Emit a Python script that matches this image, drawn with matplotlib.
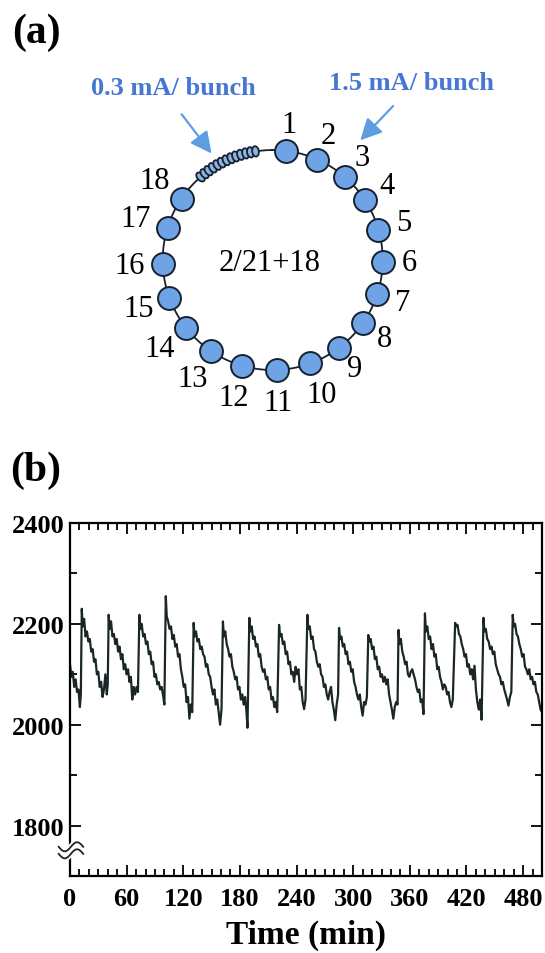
import numpy as np
import matplotlib
matplotlib.use('Agg')
import matplotlib.pyplot as plt
from matplotlib.patches import Ellipse
from matplotlib.ticker import MultipleLocator

# ---- data ----
# (a) bunch pattern, angles in degrees clockwise from the top
bunch_labels = [str(i) for i in range(1, 19)]
bunch_angle_deg = [7, 24, 41, 57, 74, 91, 108, 125, 143, 160,
                   178, 196, 214, 232, 250, 268, 287, 304]
small_bunch_angle_deg = [319, 321.7, 324.3, 327, 329.7, 332.3, 335,
                         337.7, 340.3, 343, 345.7, 348.3, 351]
fill_text = '2/21+18'
small_label = '0.3 mA/ bunch'
big_label = '1.5 mA/ bunch'

# (b) trace vs time
time_min = [
    0, 1.5, 3, 4.5, 6, 7.5, 9, 10.5, 11.5,
    12.5, 13.5, 15, 16.5, 18, 19.5, 21, 22.5, 24, 25.5, 27, 28.5, 30, 31.5, 33, 34.5, 36, 37.5, 39, 40,
    41, 42, 43.5, 45, 46.5, 48, 49.5, 51, 52.5, 54, 55.5, 57, 58.5, 60, 61.5, 63, 64.5, 66, 67.5, 69, 70.5, 72,
    73.5, 74.5, 76, 77.5, 79, 80.5, 82, 83.5, 85, 86.5, 88, 89.5, 91, 92.5, 94, 95.5, 97, 98.5, 100,
    101.5, 102.5, 104, 105.5, 107, 108.5, 110, 111.5, 113, 114.5, 116, 117.5, 119, 120.5, 122, 123.5, 125, 126.5, 128, 129.5,
    131, 132, 133.5, 135, 136.5, 138, 139.5, 141, 142.5, 144, 145.5, 147, 148.5, 150, 151.5, 153, 154.5, 156, 157.5, 159, 160.5,
    162, 163, 164.5, 166, 167.5, 169, 170.5, 172, 173.5, 175, 176.5, 178, 179.5, 181, 182.5, 184, 185.5, 187, 188,
    190, 191, 192.5, 194, 195.5, 197, 198.5, 200, 201.5, 203, 204.5, 206, 207.5, 209, 210.5, 212, 213.5, 215, 216.5, 218, 219.5,
    221.5, 222.5, 224, 225.5, 227, 228.5, 230, 231.5, 233, 234.5, 236, 237.5, 239, 240.5, 242, 243.5, 245, 246.5, 248, 249.5,
    251.5, 252.5, 254, 255.5, 257, 258.5, 260, 261.5, 263, 264.5, 266, 267.5, 269, 270.5, 272, 273.5, 275, 276.5, 278, 279.5, 281, 282.5, 284,
    285, 286, 287.5, 289, 290.5, 292, 293.5, 295, 296.5, 298, 299.5, 301, 302.5, 304, 305.5, 307, 308.5, 310, 311.5, 313, 314.5,
    316, 317, 318.5, 320, 321.5, 323, 324.5, 326, 327.5, 329, 330.5, 332, 333.5, 335, 336.5, 338, 339.5, 341, 342.5, 344, 345.5, 347,
    348, 349, 350.5, 352, 353.5, 355, 356.5, 358, 359.5, 361, 362.5, 364, 365.5, 367, 368.5, 370, 371.5, 373, 374.5,
    376, 377, 378.5, 380, 381.5, 383, 384.5, 386, 387.5, 389, 390.5, 392, 393.5, 395, 396.5, 398, 399.5, 401, 402.5, 404, 405.5,
    408, 409, 410.5, 412, 413.5, 415, 416.5, 418, 419.5, 421, 422.5, 424, 425.5, 427, 428.5, 430, 431.5, 433, 434.5, 436,
    438, 439, 440.5, 442, 443.5, 445, 446.5, 448, 449.5, 451, 452.5, 454, 455.5, 457, 458.5, 460, 461.5, 463, 464.5, 466, 467.5,
    469, 470, 471.5, 473, 474.5, 476, 477.5, 479, 480.5, 482, 483.5, 485, 486.5, 488, 489.5, 491, 492.5, 494, 495.5, 497, 498.5, 500,
]
trace = [
    2120, 2095, 2105, 2075, 2090, 2065, 2070, 2035, 2060,
    2230, 2195, 2210, 2175, 2185, 2165, 2170, 2145, 2150, 2125, 2130, 2100, 2105, 2075, 2085, 2055, 2070, 2100, 2060, 2080,
    2218, 2190, 2205, 2175, 2180, 2160, 2170, 2145, 2155, 2130, 2140, 2110, 2120, 2100, 2110, 2085, 2095, 2050, 2075, 2060, 2075, 2065,
    2218, 2190, 2200, 2175, 2180, 2160, 2165, 2140, 2145, 2120, 2125, 2095, 2100, 2080, 2085, 2070, 2075, 2060, 2040,
    2255, 2215, 2205, 2190, 2195, 2170, 2178, 2155, 2160, 2135, 2140, 2110, 2095, 2075, 2080, 2045, 2055, 2012, 2040, 2025,
    2202, 2175, 2185, 2165, 2170, 2150, 2155, 2140, 2135, 2115, 2120, 2100, 2095, 2075, 2060, 2070, 2040, 2050, 2025, 2000, 2030,
    2205, 2175, 2185, 2160, 2150, 2135, 2140, 2115, 2105, 2090, 2095, 2070, 2075, 2050, 2060, 2040, 2055, 2025, 1994,
    2212, 2185, 2195, 2170, 2175, 2155, 2160, 2135, 2140, 2115, 2105, 2110, 2090, 2095, 2070, 2075, 2050, 2055, 2035, 2045, 2025,
    2198, 2175, 2180, 2160, 2165, 2140, 2145, 2120, 2125, 2100, 2105, 2085, 2115, 2100, 2110, 2070, 2075, 2045, 2031, 2050,
    2218, 2190, 2195, 2170, 2175, 2150, 2145, 2125, 2115, 2120, 2100, 2095, 2075, 2080, 2060, 2050, 2065, 2075, 2045, 2030, 2009, 2040, 2060,
    2192, 2170, 2175, 2155, 2160, 2140, 2145, 2120, 2125, 2105, 2110, 2085, 2075, 2060, 2050, 2060, 2035, 2018, 2045, 2040, 2055,
    2178, 2165, 2170, 2150, 2155, 2130, 2135, 2110, 2115, 2095, 2100, 2085, 2095, 2080, 2090, 2060, 2045, 2030, 2012, 2035, 2045, 2040,
    2188, 2160, 2170, 2145, 2135, 2120, 2125, 2100, 2095, 2105, 2110, 2100, 2090, 2075, 2065, 2070, 2045, 2050, 2021,
    2221, 2185, 2195, 2170, 2175, 2150, 2160, 2135, 2140, 2110, 2115, 2095, 2085, 2070, 2080, 2075, 2060, 2065, 2045, 2035, 2050,
    2202, 2195, 2198, 2180, 2175, 2160, 2150, 2135, 2140, 2115, 2120, 2100, 2110, 2090, 2117, 2070, 2045, 2030, 2050, 2010,
    2212, 2185, 2190, 2170, 2165, 2150, 2155, 2140, 2145, 2120, 2110, 2100, 2095, 2080, 2085, 2070, 2060, 2050, 2038, 2055, 2065,
    2218, 2195, 2200, 2180, 2175, 2160, 2150, 2135, 2140, 2115, 2110, 2100, 2110, 2090, 2095, 2080, 2085, 2065, 2060, 2045, 2030, 2025,
]
x_ticks = [0, 60, 120, 180, 240, 300, 360, 420, 480]
y_ticks = [1800, 2000, 2200, 2400]

plt.rcParams['font.family'] = ['Liberation Serif', 'DejaVu Serif']

BUNCH_BLUE = '#6ea3e6'
TEXT_BLUE = '#4677d2'
ARROW_BLUE = '#5f9de2'
EDGE = '#16202e'

fig = plt.figure(figsize=(5.45, 9.54), dpi=100)

# ---------------- (a) fill pattern ----------------
# axes in units of the ring radius, 110 px per unit
ax_a = fig.add_axes([0, 0.5073, 1, 0.4927])
ax_a.set_xlim(-2.479, 2.475)
ax_a.set_ylim(-1.90, 2.373)
ax_a.axis('off')

ring = np.linspace(0, 2 * np.pi, 400)
ax_a.plot(np.sin(ring), np.cos(ring), color=EDGE, lw=1.3, zorder=1)

th = np.radians(bunch_angle_deg)
ax_a.plot(np.sin(th), np.cos(th), 'o', ms=16.5, mfc=BUNCH_BLUE,
          mec=EDGE, mew=1.4, zorder=3)

for a in small_bunch_angle_deg:
    t = np.radians(a)
    e = Ellipse((np.sin(t), np.cos(t)), width=0.06, height=0.095,
                angle=-a, facecolor='#8fb3e0', edgecolor=EDGE, lw=1.3, zorder=2)
    ax_a.add_patch(e)

for lab, a in zip(bunch_labels, bunch_angle_deg):
    t = np.radians(a)
    r = 1.24 if len(lab) == 1 else 1.30
    ax_a.text(r * np.sin(t), r * np.cos(t), lab, fontsize=22,
              ha='center', va='center')

ax_a.text(-0.025, -0.02, fill_text, fontsize=22, ha='center', va='center')

arrow_style = dict(arrowstyle='-|>,head_length=1.3,head_width=0.65',
                   color=ARROW_BLUE, lw=1.6)
ax_a.annotate('', xy=(-0.54, 0.948), xytext=(-0.843, 1.345),
              arrowprops=arrow_style)
ax_a.annotate('', xy=(0.778, 1.07), xytext=(1.112, 1.418),
              arrowprops=arrow_style)
ax_a.text(-0.906, 1.573, small_label, fontsize=19, fontweight='bold',
          color=TEXT_BLUE, ha='center', va='center')
ax_a.text(1.257, 1.618, big_label, fontsize=19, fontweight='bold',
          color=TEXT_BLUE, ha='center', va='center')

fig.text(0.066, 0.966, '(a)', fontsize=30, fontweight='bold',
         ha='center', va='center')
fig.text(0.066, 0.507, '(b)', fontsize=30, fontweight='bold',
         ha='center', va='center')

# ---------------- (b) time trace ----------------
ax_b = fig.add_axes([0.1284, 0.0807, 0.8661, 0.3700])
ax_b.plot(time_min, trace, color='#1b2626', lw=1.6)
ax_b.set_xlim(0, 500)
ax_b.set_ylim(1700, 2400)
ax_b.set_xticks(x_ticks)
ax_b.set_yticks(y_ticks)
ax_b.xaxis.set_minor_locator(MultipleLocator(10))
ax_b.yaxis.set_minor_locator(MultipleLocator(100))
ax_b.tick_params(which='both', direction='in', top=True, right=True,
                 width=1.3, labelsize=19)
ax_b.tick_params(which='major', length=8)
ax_b.tick_params(which='minor', length=5)
ax_b.tick_params(axis='x', pad=8)
ax_b.tick_params(axis='y', pad=4)
for lab in ax_b.get_xticklabels() + ax_b.get_yticklabels():
    lab.set_fontweight('bold')
for sp in ax_b.spines.values():
    sp.set_linewidth(1.6)
ax_b.set_xlabel('Time (min)', fontsize=24, fontweight='bold', labelpad=6)

# axis break mark on the left spine: two short wavy strokes
wave_x = np.linspace(-12, 14, 60)
wave = 9 * np.sin((wave_x + 12) / 26 * 2 * np.pi)
for off in (1758, 1744):
    ax_b.plot(wave_x, off - wave, color='white', lw=4, clip_on=False, zorder=4)
    ax_b.plot(wave_x, off - wave, color='#222', lw=1.3, clip_on=False, zorder=5)

fig.savefig('out.png', dpi=100)
